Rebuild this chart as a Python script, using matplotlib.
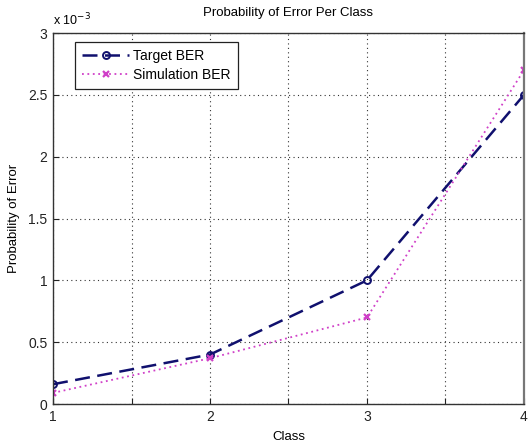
import matplotlib
matplotlib.use("Agg")
from matplotlib import pyplot as plt
import numpy as np

classes = [1, 2, 3, 4]
target_ber = [0.16e-3, 0.40e-3, 1.0e-3, 2.5e-3]
sim_ber = [0.09e-3, 0.37e-3, 0.70e-3, 2.70e-3]

plt.rcParams['font.family'] = ['Liberation Sans', 'DejaVu Sans']
plt.rcParams['font.size'] = 9

fig = plt.figure(figsize=(5.28, 4.45), dpi=100)
ax = fig.add_axes([0.1004, 0.0921, 0.8920, 0.8337])

ax.plot(classes, target_ber, color='#10106e', linestyle=(0, (6, 3)), linewidth=1.8,
        marker='o', markersize=5, markerfacecolor='none', markeredgewidth=1.4,
        label='Target BER')
ax.plot(classes, sim_ber, color='#d040c8', linestyle=(0, (1, 2)), linewidth=1.3,
        marker='x', markersize=4.5, markeredgewidth=1.6, label='Simulation BER')

ax.set_xlim(1, 4)
ax.set_ylim(0, 3e-3)
ax.set_xticks(np.arange(1, 4.01, 0.5))
ax.set_xticklabels(['1', '', '2', '', '3', '', '4'])
ax.set_yticks(np.arange(0, 3.01e-3, 0.5e-3))
ax.set_yticklabels(['0', '0.5', '1', '1.5', '2', '2.5', '3'])
ax.text(0.0, 1.012, r'x 10$^{-3}$', transform=ax.transAxes, ha='left', va='bottom', fontsize=9)

ax.tick_params(direction='in', length=4, width=0.8, colors='#222222', labelsize=10, pad=4)
ax.grid(True, linestyle=(0, (1, 3)), color='#333333', linewidth=0.8)
for s in ax.spines.values():
    s.set_color('#333333')
    s.set_linewidth(1.0)
ax.spines['right'].set_color('#777777')
ax.spines['right'].set_linewidth(1.6)

ax.set_title('Probability of Error Per Class', fontsize=9.5, pad=12)
ax.set_xlabel('Class', labelpad=5, fontsize=9.5)
ax.set_ylabel('Probability of Error', labelpad=6, fontsize=9.5)

leg = ax.legend(loc='upper left', bbox_to_anchor=(0.047, 0.975), fancybox=False,
                edgecolor='#222222', framealpha=1, borderpad=0.5, handlelength=3.4,
                handletextpad=0.3, fontsize=10, labelspacing=0.35, borderaxespad=0)
leg.get_frame().set_linewidth(0.9)

fig.savefig('out.png', dpi=100)
